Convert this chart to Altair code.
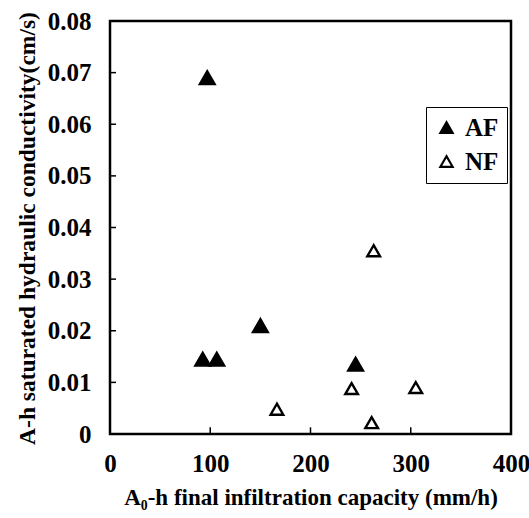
import altair as alt
import pandas as pd

# Measured points: final infiltration capacity (A0 horizon) vs saturated
# hydraulic conductivity (A horizon), for the two forest types.
af_x = [97, 92.5, 106.5, 150, 245]
af_y = [0.069, 0.0145, 0.0145, 0.021, 0.0135]
nf_x = [263, 166.5, 241, 261, 305]
nf_y = [0.0355, 0.0048, 0.0088, 0.0022, 0.009]
groups = ["AF", "NF"]

x_ticks = [0, 100, 200, 300, 400]
y_ticks = [0, 0.01, 0.02, 0.03, 0.04, 0.05, 0.06, 0.07, 0.08]

FONT = "Liberation Serif"

pts = pd.DataFrame({
    "cap": af_x + nf_x,
    "ksat": af_y + nf_y,
    "grp": [groups[0]] * len(af_x) + [groups[1]] * len(nf_x),
})
# separate column so the marker size does not merge into the fill legend
pts["kind"] = pts["grp"].map({"AF": "filled", "NF": "open"})

xs = alt.Scale(domain=[0, 400], nice=False)
ys = alt.Scale(domain=[0, 0.08], nice=False)

x_axis = alt.Axis(
    values=x_ticks, ticks=False, domain=False, grid=False,
    labelFont=FONT, labelFontWeight="bold", labelFontSize=25, labelColor="black",
    labelPadding=17, labelFlush=False,
    title="A₀-h final infiltration capacity (mm/h)",
    titleFont=FONT, titleFontWeight="bold", titleFontSize=23, titleColor="black",
    titleY=63, titleBaseline="middle",
)
y_axis = alt.Axis(
    values=y_ticks, ticks=False, domain=False, grid=False,
    labelExpr="datum.value == 0 ? '0' : format(datum.value, '.2f')",
    labelFont=FONT, labelFontWeight="bold", labelFontSize=25, labelColor="black",
    labelPadding=19, labelFlush=False,
    title="A-h saturated hydraulic conductivity(cm/s)",
    titleFont=FONT, titleFontWeight="bold", titleFontSize=23.5, titleColor="black",
    titleX=-83, titleY=207, titleAngle=270, titleAlign="center", titleBaseline="middle",
)

points = alt.Chart(pts).mark_point(
    shape="triangle-up", strokeWidth=2.4, opacity=1, stroke="black", filled=False
).encode(
    x=alt.X("cap:Q", scale=xs, axis=x_axis),
    y=alt.Y("ksat:Q", scale=ys, axis=y_axis),
    size=alt.Size("kind:N", scale=alt.Scale(domain=["filled", "open"], range=[215, 160]), legend=None),
    fill=alt.Fill(
        "grp:N",
        scale=alt.Scale(domain=groups, range=["black", "white"]),
        legend=alt.Legend(
            title=None, orient="none", legendX=316, legendY=86,
            symbolType="triangle-up", symbolSize=150, symbolStrokeColor="black",
            symbolStrokeWidth=2.2, symbolOpacity=1,
            labelFont=FONT, labelFontWeight="bold", labelFontSize=25, labelColor="black",
            labelOffset=6, rowPadding=8, padding=8,
            strokeColor="black", fillColor="white",
        ),
    ),
)

# Inward tick marks along the bottom and left edges of the frame
xt = pd.DataFrame({"x": x_ticks[1:-1], "y0": [0.0] * 3, "y1": [0.0013] * 3})
yt = pd.DataFrame({"y": y_ticks[1:-1], "x0": [0.0] * 7, "x1": [6.0] * 7})

x_tick_rules = alt.Chart(xt).mark_rule(color="black", strokeWidth=1.5).encode(
    x=alt.X("x:Q", scale=xs), y=alt.Y("y0:Q", scale=ys), y2="y1:Q"
)
y_tick_rules = alt.Chart(yt).mark_rule(color="black", strokeWidth=1.5).encode(
    y=alt.Y("y:Q", scale=ys), x=alt.X("x0:Q", scale=xs), x2="x1:Q"
)

chart = (
    alt.layer(x_tick_rules, y_tick_rules, points)
    .properties(
        width=401, height=413,
        autosize=alt.AutoSizeParams(type="none"),
        padding={"left": 110, "top": 21, "right": 18, "bottom": 84},
        background="white",
    )
    .configure_view(stroke="black", strokeWidth=2.5)
)

chart.save("out.html", embed_options={"renderer": "svg", "actions": False})
